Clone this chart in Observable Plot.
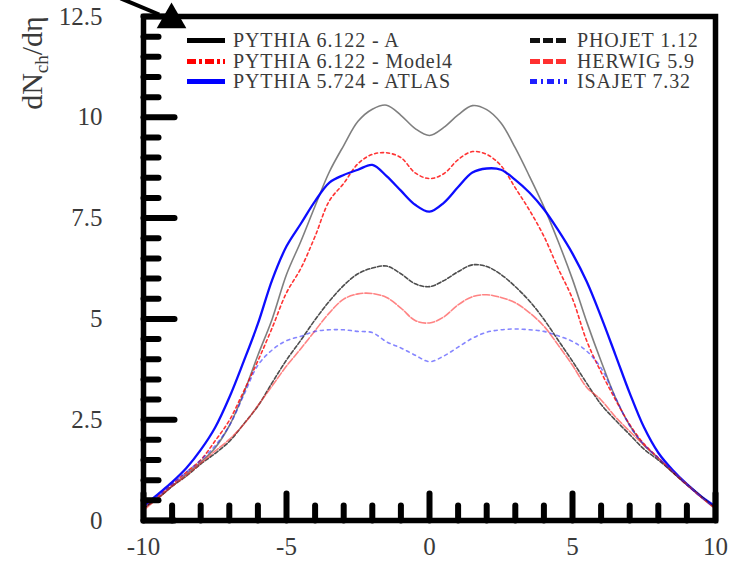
<!DOCTYPE html>
<html>
<head>
<meta charset="utf-8">
<script src="https://cdn.jsdelivr.net/npm/d3@7"></script>
<script src="https://cdn.jsdelivr.net/npm/@observablehq/plot@0.6"></script>
<style>
  html, body { margin: 0; padding: 0; background: #fff; }
  #chart { width: 738px; height: 566px; overflow: hidden; }
</style>
</head>
<body>
<div id="chart"></div>
<script>
// ---- data ----
const eta = [-10,-9.5,-9,-8.5,-8,-7.5,-7,-6.5,-6,-5.5,-5,-4.5,-4,-3.5,-3,-2.5,-2,-1.5,-1,-0.5,0,
             0.5,1,1.5,2,2.5,3,3.5,4,4.5,5,5.5,6,6.5,7,7.5,8,8.5,9,9.5,10];

const pythia6122A = [0.3,0.55,0.85,1.15,1.45,1.8,2.35,3.15,4.1,5.0,6.1,6.92,7.8,8.65,9.3,9.9,10.2,10.3,10.05,9.72,9.55,
                     9.75,10.06,10.29,10.19,9.86,9.24,8.53,7.78,6.92,5.98,4.92,3.95,3.05,2.36,1.87,1.55,1.2,0.88,0.58,0.3];
const pythia6122Model4 = [0.3,0.6,0.9,1.2,1.5,1.97,2.48,3.2,3.96,4.78,5.65,6.25,7.05,7.93,8.36,8.85,9.08,9.12,9.0,8.62,8.48,
                          8.6,8.95,9.15,9.08,8.8,8.25,7.69,7.05,6.25,5.5,4.45,3.68,3.0,2.38,1.9,1.55,1.2,0.88,0.58,0.3];
const pythia5724Atlas = [0.35,0.65,0.95,1.3,1.75,2.3,3.05,3.94,4.88,5.97,6.8,7.36,7.92,8.38,8.57,8.7,8.82,8.54,8.18,7.83,7.66,
                         7.88,8.27,8.63,8.73,8.7,8.45,8.13,7.72,7.2,6.62,5.92,5.05,4.11,3.16,2.31,1.68,1.25,0.9,0.6,0.35];
const phojet112 = [0.3,0.55,0.85,1.1,1.4,1.66,1.96,2.39,2.84,3.42,3.98,4.47,4.98,5.44,5.83,6.12,6.26,6.31,6.12,5.87,5.8,
                   5.95,6.17,6.34,6.3,6.1,5.8,5.44,4.99,4.47,3.95,3.4,2.88,2.49,2.13,1.77,1.5,1.2,0.9,0.6,0.3];
const herwig59 = [0.25,0.55,0.85,1.12,1.42,1.72,2.01,2.38,2.85,3.34,3.83,4.26,4.71,5.15,5.49,5.62,5.63,5.53,5.27,4.96,4.9,
                  5.05,5.35,5.55,5.6,5.53,5.4,5.15,4.82,4.35,3.85,3.3,2.99,2.57,2.21,1.87,1.55,1.22,0.9,0.58,0.28];
const isajet732 = [0.35,0.6,0.9,1.2,1.5,1.85,2.35,3.1,3.85,4.23,4.46,4.57,4.69,4.73,4.73,4.69,4.66,4.43,4.28,4.1,3.94,
                   4.08,4.3,4.52,4.67,4.73,4.75,4.73,4.69,4.58,4.44,4.2,3.78,3.05,2.35,1.88,1.55,1.22,0.9,0.58,0.3];

const seriesNames = ["PYTHIA 6.122 - A", "PYTHIA 6.122 - Model4", "PYTHIA 5.724 - ATLAS",
                     "PHOJET 1.12", "HERWIG 5.9", "ISAJET 7.32"];
const seriesValues = [pythia6122A, pythia6122Model4, pythia5724Atlas, phojet112, herwig59, isajet732];

const xTickValues = [-10, -5, 0, 5, 10];
const xTickLabels = ["-10", "-5", "0", "5", "10"];
const xMinorValues = [-9,-8,-7,-6,-4,-3,-2,-1,1,2,3,4,6,7,8,9];
const yTickValues = [0, 2.5, 5, 7.5, 10, 12.5];
const yTickLabels = ["0", "2.5", "5", "7.5", "10", "12.5"];
const yMinorValues = [0.5,1,1.5,2,3,3.5,4,4.5,5.5,6,6.5,7,8,8.5,9,9.5,10.5,11,11.5,12];
const xAxisTitle = "η";
const yAxisTitle = {main: "dN", sub: "ch", tail: "/dη"};
const cornerArrowLine = [{x1: -10.8, y1: 12.95, x2: -9.45, y2: 12.55}];
const cornerArrowHead = [{x: -9.02, y: 12.42}];

// ---- styles (kept apart from the data) ----
const lineStyles = [
  {stroke: "#000000", opacity: 0.5,  width: 1.6, dash: null,    legendDash: null},
  {stroke: "#ff0000", opacity: 0.8,  width: 1.6, dash: "3,3",   legendDash: "9,3,3,3"},
  {stroke: "#0000ff", opacity: 0.95, width: 2.3, dash: null,    legendDash: null},
  {stroke: "#111111", opacity: 0.75, width: 1.6, dash: "4,2",   legendDash: "10,3"},
  {stroke: "#ff3030", opacity: 0.6,  width: 1.6, dash: "7,2",   legendDash: "10,3"},
  {stroke: "#2020ff", opacity: 0.55, width: 1.6, dash: "3,4",   legendDash: "7,4,2,4"}
];
const FONT = "'Liberation Serif', 'Times New Roman', Times, serif";
const TEXT_FILL = "#3a3a3a";

const rows = seriesNames.flatMap((name, i) =>
  eta.map((x, j) => ({series: name, eta: x, value: seriesValues[i][j]})));

const tickShape = {draw(context, l) { context.moveTo(0, 0); context.lineTo(0, -l); }};

const lineMarks = seriesNames.map((name, i) => Plot.line(rows.filter(r => r.series === name), {
  x: "eta", y: "value", curve: "catmull-rom",
  stroke: lineStyles[i].stroke, strokeOpacity: lineStyles[i].opacity,
  strokeWidth: lineStyles[i].width, strokeDasharray: lineStyles[i].dash
}));

const svg = Plot.plot({
  width: 738, height: 566,
  marginLeft: 143, marginRight: 23, marginTop: 16, marginBottom: 46,
  x: {domain: [-10, 10], axis: null},
  y: {domain: [0, 12.5], axis: null},
  style: {fontFamily: FONT, background: "white", overflow: "visible"},
  marks: [
    ...lineMarks,
    Plot.frame({stroke: "black", strokeWidth: 5.5}),
    // ticks pointing inward
    Plot.vector(xMinorValues, {x: d => d, frameAnchor: "bottom", length: 15, rotate: 0, anchor: "start",
      shape: tickShape, stroke: "black", strokeWidth: 6}),
    Plot.vector(xTickValues, {x: d => d, frameAnchor: "bottom", length: 27, rotate: 0, anchor: "start",
      shape: tickShape, stroke: "black", strokeWidth: 6}),
    Plot.vector(yMinorValues, {y: d => d, frameAnchor: "left", length: 15, rotate: 90, anchor: "start",
      shape: tickShape, stroke: "black", strokeWidth: 6}),
    Plot.vector(yTickValues, {y: d => d, frameAnchor: "left", length: 31, rotate: 90, anchor: "start",
      shape: tickShape, stroke: "black", strokeWidth: 6}),
    // tick labels
    Plot.text(xTickValues, {x: d => d, frameAnchor: "bottom", lineAnchor: "top", dy: 17,
      text: (d, i) => xTickLabels[i], fontSize: 25, fill: TEXT_FILL}),
    Plot.text(yTickValues, {y: d => d, frameAnchor: "left", textAnchor: "end", dx: -41,
      text: (d, i) => yTickLabels[i], fontSize: 25, fill: TEXT_FILL}),
    Plot.text([xAxisTitle], {frameAnchor: "bottom-right", lineAnchor: "top", dy: 43, dx: 5,
      fontSize: 22, fill: TEXT_FILL}),
    // corner arrow
    Plot.link(cornerArrowLine, {x1: "x1", y1: "y1", x2: "x2", y2: "y2", stroke: "black", strokeWidth: 4}),
    Plot.dot(cornerArrowHead, {x: "x", y: "y", symbol: "triangle", r: 11, fill: "black", stroke: "none"})
  ]
});

const root = d3.select(svg);

// y axis title, rotated, with subscript
const yt = root.append("text")
  .attr("transform", "translate(42,63) rotate(-90)")
  .attr("text-anchor", "middle")
  .attr("font-family", FONT)
  .attr("font-size", 30)
  .attr("fill", TEXT_FILL);
yt.append("tspan").text(yAxisTitle.main);
yt.append("tspan").attr("font-size", 19).attr("dy", 6).text(yAxisTitle.sub);
yt.append("tspan").attr("dy", -6).text(yAxisTitle.tail);

// legend (two columns of three rows, inside the frame)
const legendCols = [{lineX1: 187, lineX2: 225, textX: 233}, {lineX1: 530, lineX2: 567, textX: 577}];
const legendRows = [40.5, 61.5, 81.5];
const lg = root.append("g").attr("class", "legend").attr("text-anchor", "start");
seriesNames.forEach((name, i) => {
  const col = legendCols[Math.floor(i / 3)];
  const yy = legendRows[i % 3];
  const st = lineStyles[i];
  lg.append("line")
    .attr("x1", col.lineX1).attr("x2", col.lineX2).attr("y1", yy).attr("y2", yy)
    .attr("stroke", st.stroke).attr("stroke-width", 5)
    .attr("stroke-dasharray", st.legendDash);
  lg.append("text")
    .attr("x", col.textX).attr("y", yy + 6)
    .attr("text-anchor", "start")
    .attr("font-family", FONT).attr("font-size", 20)
    .attr("letter-spacing", 0.9)
    .attr("fill", TEXT_FILL)
    .text(name);
});

document.getElementById("chart").appendChild(svg);
</script>
</body>
</html>
